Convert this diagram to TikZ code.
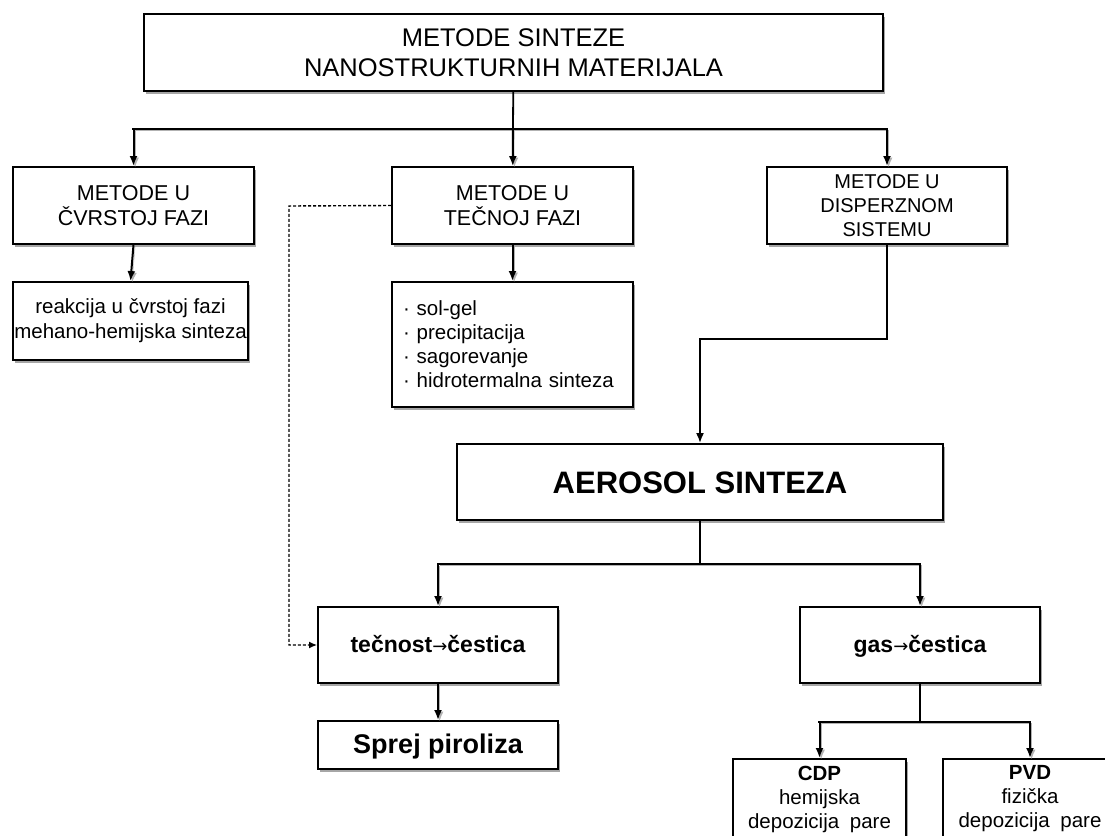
\documentclass[tikz,border=0pt]{standalone}
\usepackage{fontspec}
\setmainfont{Liberation Sans}
\newfontfamily\arrowfont{DejaVu Sans}
\usetikzlibrary{arrows.meta,shadows}
\newcommand{\fsz}[2]{\fontsize{#1}{#2}\selectfont}
\tikzset{
  box/.style={draw, line width=1.9pt, fill=white, inner sep=0pt, align=center,
    drop shadow={shadow xshift=1.5pt, shadow yshift=-2.5pt, fill=black!35, opacity=1}},
  shade/.style={preaction={draw=black!30, transform canvas={xshift=1.6pt,yshift=-1.6pt}}},
  conn/.style={line width=2pt, shade, -{Latex[length=10pt,width=8pt]}},
  thinconn/.style={line width=1.8pt, -{Latex[length=10pt,width=8pt]}},
  plainline/.style={line width=1.8pt},
  bar/.style={line width=2.6pt, line cap=rect, shade},
  dashconn/.style={line width=1.4pt, dash pattern=on 3pt off 2pt, -{Latex[length=8pt,width=7pt]}},
  oneline/.style 2 args={text height=#1, text depth=#2},
}
\begin{document}
\begin{tikzpicture}[x=1pt,y=-1pt]
\clip (0,0) rectangle (1105,835);
\fill[white] (0,0) rectangle (1105,835);

% boxes
\node[box, minimum width=739pt, minimum height=77pt, font=\fsz{25.5}{30}] (title) at (513.5,52.5)
  {METODE SINTEZE\\NANOSTRUKTURNIH MATERIJALA};
\node[box, minimum width=241pt, minimum height=77pt, font=\fsz{21.5}{25}] (L1) at (133.5,205.5)
  {METODE U\\ČVRSTOJ FAZI};
\node[box, minimum width=241pt, minimum height=77pt, font=\fsz{21.5}{25}] (M1) at (512.5,205.5)
  {METODE U\\TEČNOJ FAZI};
\node[box, minimum width=240pt, minimum height=77pt, font=\fsz{20}{24}] (R1) at (887,205.5)
  {METODE U\\DISPERZNOM\\SISTEMU};
\node[box, minimum width=235pt, minimum height=78pt, font=\fsz{20.5}{25}] (L2) at (130.5,321)
  {reakcija u čvrstoj fazi\\mehano-hemijska sinteza};
\node[box, minimum width=241pt, minimum height=125pt, text width=219pt, align=left, font=\fsz{20.5}{24}] (M2) at (512.5,344.5)
  {· sol-gel\\· precipitacija\\· sagorevanje\\· hidrotermalna sinteza};
\node[box, oneline={23pt}{0pt}, minimum width=486pt, minimum height=76pt, font=\bfseries\fsz{31}{36}] (AERO) at (700,482)
  {AEROSOL SINTEZA};
\node[box, oneline={16pt}{2pt}, minimum width=240pt, minimum height=76pt, font=\bfseries\fsz{23}{26}] (TEC) at (438,645)
  {tečnost{\arrowfont\mdseries\fsz{18}{26}→}čestica};
\node[box, oneline={16pt}{2pt}, minimum width=240pt, minimum height=76pt, font=\bfseries\fsz{23}{26}] (GAS) at (920,645)
  {gas{\arrowfont\mdseries\fsz{18}{26}→}čestica};
\node[box, oneline={20pt}{4pt}, minimum width=240pt, minimum height=48pt, font=\bfseries\fsz{27}{30}] (SPREJ) at (438,745)
  {Sprej piroliza};
\node[box, minimum width=173pt, minimum height=80pt, font=\fsz{20.5}{24}] (CDP) at (819.5,799)
  {{\bfseries CDP}\\hemijska\\depozicija\hspace{5pt} pare};
\node[box, minimum width=174pt, minimum height=80pt, font=\fsz{20.5}{24}] (PVD) at (1030,799)
  {{\bfseries PVD}\\fizička\\depozicija\hspace{5pt} pare};

% connectors
\coordinate (b1) at (513,129);
\draw[plainline] (title) -- (b1);
\draw[bar] (b1 -| L1) -- (b1 -| R1);
\draw[conn] (b1 -| L1) -- (L1);
\draw[conn] (b1) -- (M1);
\draw[conn] (b1 -| R1) -- (R1);
\draw[conn] (L1.south) -- (L2.north);
\draw[conn] (M1) -- (M2);

\coordinate (rb) at (700,339);
\draw[thinconn] (R1.south) |- (rb) -- (AERO.north);

\coordinate (dc) at (289,206);
\draw[dashconn] (M1.west) -- (dc) |- (TEC.west);

\coordinate (b2) at (700,564);
\draw[plainline] (AERO) -- (b2);
\draw[bar] (b2 -| TEC) -- (b2 -| GAS);
\draw[conn] (b2 -| TEC) -- (TEC);
\draw[conn] (b2 -| GAS) -- (GAS);
\draw[conn] (TEC) -- (SPREJ);

\coordinate (b3) at (920,722);
\draw[plainline, line width=2pt] (GAS) -- (b3);
\draw[bar] (b3 -| CDP) -- (b3 -| PVD);
\draw[conn] (b3 -| CDP) -- (CDP);
\draw[conn] (b3 -| PVD) -- (PVD);
\end{tikzpicture}
\end{document}
